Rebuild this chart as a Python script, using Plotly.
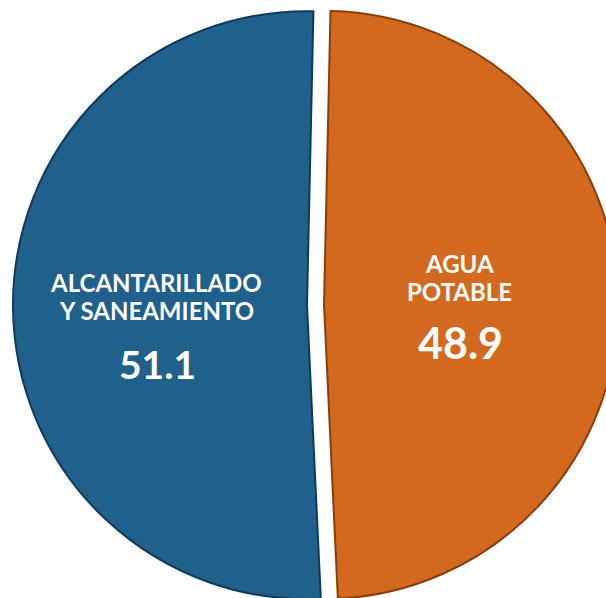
import plotly.graph_objects as go

labels = ["ALCANTARILLADO<br>Y SANEAMIENTO", "AGUA<br>POTABLE"]
values = [51.1, 48.9]
colors = ["#1F608C", "#D2691E"]
edge_colors = ["#0E3A5A", "#8A3D0C"]

W, H = 631, 610
OFF = 0  # page body margin (removed below)


def px(x, y):
    return (x - OFF) / W, 1 - (y - OFF) / H


fig = go.Figure(
    go.Pie(
        labels=labels,
        values=values,
        sort=False,
        direction="clockwise",
        rotation=177.3,
        pull=[0.029, 0.029],
        marker=dict(colors=colors, line=dict(color=edge_colors, width=2)),
        textinfo="none",
        hoverinfo="label+value",
        showlegend=False,
        domain=dict(x=[0, 1], y=[0.0041, 0.9959]),
    )
)

label_pos = [(156, 282), (459, 263)]   # first line centre
line_gap = 28
value_pos = [(157, 364), (460, 342)]
value_size = [39, 43]
anns = []
for i, (lab, val) in enumerate(zip(labels, values)):
    lx, ly = label_pos[i]
    for j, line in enumerate(lab.split("<br>")):
        ax, ay = px(lx, ly + j * line_gap)
        anns.append(dict(x=ax, y=ay, xref="paper", yref="paper", text=f"<b>{line}</b>",
                         showarrow=False, xanchor="center", yanchor="middle",
                         font=dict(family="Lato", size=24, color="white")))
    vx, vy = value_pos[i]
    bx, by = px(vx, vy)
    anns.append(dict(x=bx, y=by, xref="paper", yref="paper", text=f"<b>{val}</b>",
                     showarrow=False, xanchor="center", yanchor="middle",
                     font=dict(family="Lato", size=value_size[i], color="white")))

fig.update_layout(
    width=W, height=H,
    margin=dict(l=0, r=0, t=0, b=0),
    paper_bgcolor="white",
    plot_bgcolor="white",
    annotations=anns,
)

fig.write_html("out.html", config={"displayModeBar": False},
               post_script="document.body.style.margin='0';")
